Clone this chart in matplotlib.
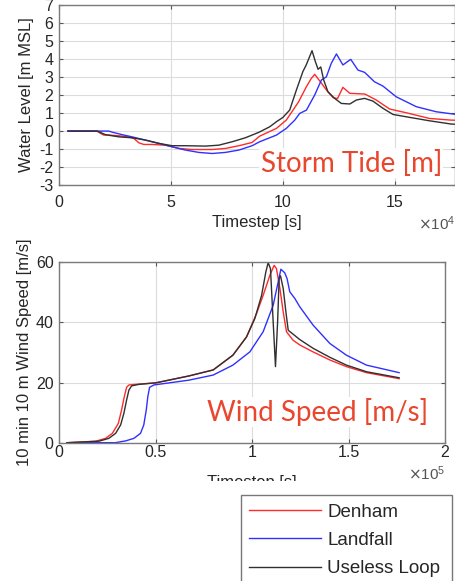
import matplotlib
matplotlib.use('Agg')
import matplotlib.pyplot as plt
import numpy as np
from matplotlib.patches import Rectangle
from matplotlib.ticker import ScalarFormatter

plt.rcParams['font.family'] = ['Liberation Sans', 'DejaVu Sans']
plt.rcParams['axes.unicode_minus'] = False

# storm tide (time in 1e4 s, level in m MSL)
tide_t_denham = [0.4, 1.7, 1.86, 2.0, 2.23, 2.68, 3.13, 3.35, 3.57, 3.79, 4.17, 4.76, 5.36, 5.95,
                 6.85, 7.44, 8.04, 8.63, 8.97, 9.72, 10.16, 10.46, 10.7, 11.06, 11.28, 11.43,
                 11.7, 12.0, 12.25, 12.45, 12.69, 13.0, 13.67, 14.18, 14.78, 15.5, 16.56, 17.5, 17.7]
tide_denham = [0, 0, -0.13, -0.22, -0.22, -0.26, -0.33, -0.41, -0.65, -0.74, -0.74, -0.78, -0.96, -1.02,
               -1.02, -0.96, -0.81, -0.63, -0.28, 0.15, 0.61, 1.16, 1.6, 2.46, 2.92, 3.14,
               2.7, 2.2, 1.85, 1.8, 2.42, 2.09, 2.05, 1.72, 1.22, 1.02, 0.7, 0.61, 0.6]

tide_t_landfall = [0.4, 2.23, 2.38, 2.83, 3.27, 3.87, 4.46, 5.06, 5.65, 6.25, 6.85, 7.44, 8.04, 8.63,
                   8.97, 9.72, 10.16, 10.54, 10.76, 11.06, 11.43, 11.73, 11.95, 12.17, 12.4, 12.69,
                   13.04, 13.36, 13.66, 14.1, 14.48, 15.07, 15.97, 16.86, 17.7]
tide_landfall = [0, 0, -0.06, -0.2, -0.32, -0.5, -0.68, -0.87, -1.05, -1.18, -1.24, -1.18, -1.05, -0.81,
                 -0.59, -0.22, 0.15, 0.61, 0.98, 1.16, 2.0, 2.83, 3.0, 3.75, 4.27, 3.66,
                 3.97, 3.38, 3.25, 2.73, 2.49, 1.9, 1.35, 1.07, 0.93]

tide_t_useless = [0.4, 1.71, 2.08, 2.68, 3.27, 3.87, 4.46, 5.06, 5.65, 6.55, 7.14, 7.74, 8.33, 8.93,
                  9.42, 9.72, 10.0, 10.31, 10.61, 10.9, 11.05, 11.31, 11.46, 11.58, 11.7, 11.83,
                  12.02, 12.32, 12.62, 13.0, 13.29, 13.66, 14.03, 14.48, 14.93, 15.67, 16.56, 17.53, 17.7]
tide_useless = [0, 0, -0.2, -0.32, -0.37, -0.5, -0.68, -0.81, -0.81, -0.83, -0.78, -0.59, -0.37, -0.07,
                0.24, 0.52, 0.75, 1.16, 2.27, 3.29, 3.66, 4.45, 3.84, 3.42, 3.55, 2.83,
                2.18, 1.81, 1.53, 1.5, 1.72, 1.81, 1.66, 1.26, 0.92, 0.76, 0.57, 0.39, 0.38]

# wind speed (time in 1e5 s, speed in m/s)
wind_t_denham = [0.04, 0.189, 0.24, 0.275, 0.306, 0.323, 0.337, 0.349, 0.361, 0.413, 0.5, 0.672,
                 0.798, 0.9, 0.971, 1.023, 1.057, 1.092, 1.114, 1.126, 1.144, 1.161, 1.178, 1.212,
                 1.247, 1.316, 1.403, 1.489, 1.593, 1.762]
wind_denham = [0, 0.5, 1.45, 3.1, 6.4, 10.9, 15.3, 18.4, 19.2, 19.5, 19.9, 22.2,
               24.2, 29.1, 35.2, 43.0, 49.0, 55.7, 59.0, 57.9, 51.3, 43.5, 36.9, 34.1,
               32.5, 30.2, 27.5, 25.3, 23.3, 21.3]

wind_t_landfall = [0.04, 0.29, 0.344, 0.387, 0.421, 0.438, 0.451, 0.459, 0.468, 0.49, 0.672, 0.798,
                   0.9, 0.988, 1.057, 1.109, 1.135, 1.149, 1.169, 1.181, 1.195, 1.221, 1.247, 1.316,
                   1.403, 1.489, 1.593, 1.762]
wind_landfall = [0, 0, 0.6, 1.45, 3.1, 5.9, 10.9, 15.3, 18.4, 19.2, 20.8, 22.5,
                 25.8, 30.2, 36.9, 45.7, 53.5, 57.7, 56.5, 54.6, 50.2, 48.0, 45.2, 39.1,
                 33.0, 29.1, 25.8, 23.3]

wind_t_useless = [0.04, 0.206, 0.257, 0.292, 0.318, 0.335, 0.349, 0.361, 0.375, 0.413, 0.5, 0.672,
                  0.798, 0.9, 0.971, 1.014, 1.049, 1.071, 1.083, 1.095, 1.109, 1.121, 1.132, 1.14,
                  1.147, 1.161, 1.175, 1.187, 1.247, 1.316, 1.403, 1.489, 1.593, 1.762]
wind_useless = [0, 0.5, 1.45, 3.1, 5.9, 9.8, 14.2, 17.5, 18.9, 19.4, 19.9, 22.2,
                24.2, 29.1, 35.2, 41.3, 49.0, 56.8, 59.9, 57.9, 40.2, 25.3, 40.2, 54.6,
                55.5, 51.3, 43.5, 37.4, 34.3, 31.4, 28.4, 25.8, 23.6, 21.6]

names = ['Denham', 'Landfall', 'Useless Loop']
colors = ['#ff2a2a', '#3030ff', '#303030']

W, H = 455, 581
fig = plt.figure(figsize=(W / 100, H / 100), dpi=100)


class PlainSci(ScalarFormatter):
  # matlab style: "0.5" and "1", not "0.5" and "1.0"
  def _set_format(self):
    self.format = '%g'


def style(ax):
  ax.grid(True, color='#dcdcdc', linewidth=0.8)
  ax.set_axisbelow(True)
  for s in ax.spines.values():
    s.set_color('#7a7a7a')
    s.set_linewidth(1.0)
  ax.tick_params(direction='in', top=True, right=True, length=3, color='#555555',
                 labelsize=11.5, labelcolor='#262626', width=0.8)


def sci_x(ax, order):
  fmt = PlainSci(useMathText=True)
  fmt.set_powerlimits((order, order))
  ax.xaxis.set_major_formatter(fmt)
  ax.xaxis.get_offset_text().set_fontsize(11)
  ax.xaxis.get_offset_text().set_color('#555555')


ax1 = fig.add_axes([59 / W, 1 - 185.3 / H, 396 / W, 180.7 / H])
for t, y, c, n in zip([tide_t_denham, tide_t_landfall, tide_t_useless],
                      [tide_denham, tide_landfall, tide_useless], colors, names):
  ax1.plot(np.array(t) * 1e4, y, color=c, lw=1.0, label=n)
ax1.set_xlim(0, 1.77e5)
ax1.set_ylim(-3, 7)
ax1.set_xticks([0, 5e4, 10e4, 15e4])
ax1.set_yticks(range(-3, 8))
style(ax1)
sci_x(ax1, 4)
ax1.tick_params(axis='x', pad=7)
ax1.tick_params(axis='y', pad=4)
ax1.set_xlabel('Timestep [s]', fontsize=12, color='#262626')
ax1.xaxis.set_label_coords(0.5, -(222 - 185.3) / 180.7)
ax1.xaxis.label.set_va('center')
ax1.set_ylabel('Water Level [m MSL]', fontsize=12, color='#262626', va='center')
ax1.yaxis.set_label_coords(-(59 - 26.7) / 396, 0.5)
ax1.text(0.967, 0.123, 'Storm Tide [m]', transform=ax1.transAxes, ha='right', va='center',
         fontsize=20, color='#e8472d', family=['Lato', 'DejaVu Sans'],
         bbox=dict(facecolor='white', edgecolor='none', pad=1))

ax2 = fig.add_axes([59.3 / W, 1 - 442.7 / H, 385.7 / W, 180.4 / H])
lines = []
for t, y, c, n in zip([wind_t_denham, wind_t_landfall, wind_t_useless],
                      [wind_denham, wind_landfall, wind_useless], colors, names):
  l, = ax2.plot(np.array(t) * 1e5, y, color=c, lw=1.0, label=n)
  lines.append(l)
ax2.set_xlim(0, 2e5)
ax2.set_ylim(0, 60)
ax2.set_xticks([0, 0.5e5, 1e5, 1.5e5, 2e5])
ax2.set_yticks([0, 20, 40, 60])
style(ax2)
sci_x(ax2, 5)
ax2.tick_params(axis='x', pad=2)
ax2.tick_params(axis='y', pad=4)
ax2.set_xlabel('Timestep [s]', fontsize=12, color='#262626')
ax2.xaxis.set_label_coords(0.5, -(482 - 442.7) / 180.4)
ax2.xaxis.label.set_va('center')
ax2.set_ylabel('10 min 10 m Wind Speed [m/s]', fontsize=12, color='#262626', va='center')
ax2.yaxis.set_label_coords(-(59.3 - 24.5) / 385.7, 0.5)
ax2.text(0.956, 0.17, 'Wind Speed [m/s]', transform=ax2.transAxes, ha='right', va='center',
         fontsize=20, color='#e8472d', family=['Lato', 'DejaVu Sans'],
         bbox=dict(facecolor='white', edgecolor='none', pad=1))

# white strip where the legend was pasted in
fig.add_artist(Rectangle((0, 0), 1, (H - 481) / H, transform=fig.transFigure,
                         facecolor='white', edgecolor='none', zorder=3))

leg_h = 90 / H
leg = fig.legend(lines, names, loc='upper left', mode='expand',
                 bbox_to_anchor=(241 / W, 1 - 495 / H - leg_h, 211 / W, leg_h),
                 fontsize=13.5, frameon=True, fancybox=False, borderaxespad=0,
                 borderpad=0.45, handlelength=3.8, handletextpad=0.35, labelspacing=0.6)
leg.get_frame().set_edgecolor('#555555')
leg.get_frame().set_linewidth(1.0)
leg.set_zorder(5)
for txt in leg.get_texts():
  txt.set_color('#262626')

fig.savefig('out.png', dpi=100)
